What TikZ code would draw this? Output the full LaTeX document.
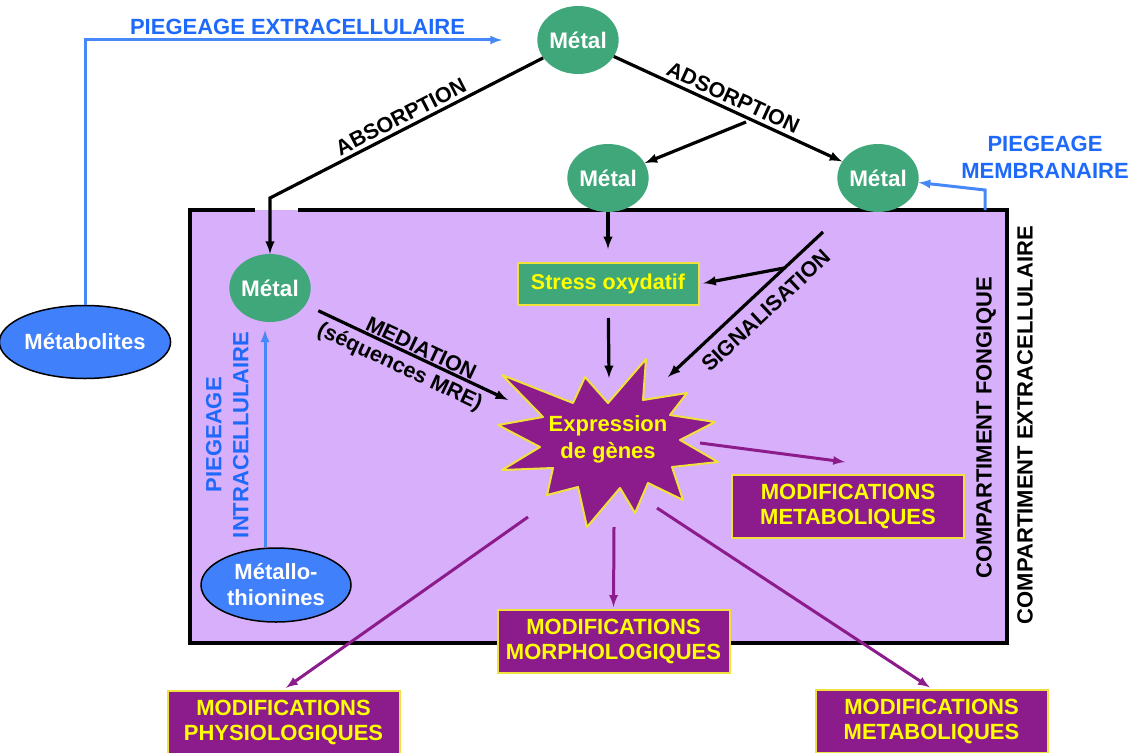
\documentclass[tikz,border=0pt]{standalone}
\usepackage{fontspec}
\setmainfont{Liberation Sans}
\usetikzlibrary{shapes.geometric}
\definecolor{vertmetal}{RGB}{63,167,122}
\definecolor{lavande}{RGB}{215,175,250}
\definecolor{violetgene}{RGB}{140,28,140}
\definecolor{jaune}{RGB}{255,255,0}
\definecolor{bordjaune}{RGB}{240,225,60}
\definecolor{bleutexte}{RGB}{30,105,250}
\definecolor{bleutrait}{RGB}{70,135,250}
\definecolor{bleuovale}{RGB}{64,128,250}
\tikzset{
  metal/.style={ellipse,fill=vertmetal,text=white,font=\bfseries\fontsize{22.5}{26}\selectfont,minimum width=74pt,minimum height=68pt,inner sep=0pt},
  ovale/.style={ellipse,draw=black,line width=1.5pt,fill=bleuovale,text=white,font=\bfseries\fontsize{22}{26}\selectfont,align=center,inner sep=0pt},
  stressbox/.style={draw=bordjaune,line width=2pt,fill=vertmetal,text=jaune,font=\bfseries\fontsize{21.5}{24}\selectfont,minimum width=181pt,minimum height=42pt,inner sep=0pt},
  modif/.style={draw=bordjaune,line width=2pt,fill=violetgene,text=jaune,font=\bfseries\fontsize{22}{25}\selectfont,align=center,minimum width=232pt,minimum height=63pt,inner sep=0pt},
  genes/.style={text=jaune,font=\bfseries\fontsize{22}{27}\selectfont,align=center},
  noirlabel/.style={text=black,font=\bfseries\fontsize{21.5}{24}\selectfont,align=center},
  bleulabel/.style={text=bleutexte,font=\bfseries\fontsize{22}{27}\selectfont,align=center},
  noir/.style={->,>=latex,line width=3.2pt,draw=black},
  bleu/.style={->,>=latex,line width=3pt,draw=bleutrait},
  violetfl/.style={->,>=latex,line width=3pt,draw=violetgene}
}
\begin{document}
\begin{tikzpicture}[x=1pt,y=-1pt]
\useasboundingbox (0,0) rectangle (1131,752);
\fill[lavande] (190,210) rectangle (1007,643);
\draw[line width=3.5pt] (298,210) -- (1007,210) -- (1007,643) -- (190,643) -- (190,210) -- (255,210);

\node[metal] (metaltop) at (578,40) {Métal};
\node[metal] (metalmid) at (608,178) {Métal};
\node[metal] (metalright) at (878,178) {Métal};
\node[metal] (metalin) at (270,288) {Métal};
\node[ovale,minimum width=149pt,minimum height=73pt] (metabolites) at (85,342) {Métabolites};
\node[ovale,minimum width=150pt,minimum height=74pt] (metallo) at (276,585) {Métallo-\\thionines};
\node[stressbox] (stress) at (608,284) {Stress oxydatif};
\draw[fill=violetgene,draw=bordjaune,line width=2pt,line join=round,shift={(608,440)}] (-106,-65) -- (-35,-37) -- (-23,-63) -- (0,-37) -- (38,-81) -- (35,-40) -- (79,-47) -- (62,-25) -- (107,-18) -- (72,0) -- (110,22) -- (64,27) -- (75,60) -- (40,43) -- (27,73) -- (12,48) -- (-21,87) -- (-30,47) -- (-61,55) -- (-55,28) -- (-106,30) -- (-68,7) -- (-110,-15) -- (-65,-23) -- cycle;
\node[genes] (expr) at (608,439) {Expression\\de gènes};
\node[modif] (metabin) at (848,506) {MODIFICATIONS\\METABOLIQUES};
\node[modif] (morpho) at (613.5,641.5) {MODIFICATIONS\\MORPHOLOGIQUES};
\node[modif] (physio) at (283.5,722) {MODIFICATIONS\\PHYSIOLOGIQUES};
\node[modif] (metabout) at (931.5,721) {MODIFICATIONS\\METABOLIQUES};
\node[noirlabel,font=\bfseries\fontsize{22}{24}\selectfont,rotate=90] (fongique) at (986,428) {COMPARTIMENT FONGIQUE};
\node[noirlabel,font=\bfseries\fontsize{22}{24}\selectfont,rotate=90] (extracell) at (1025,425) {COMPARTIMENT EXTRACELLULAIRE};
\node[bleulabel] (membrlabel) at (1045,157) {PIEGEAGE\\MEMBRANAIRE};

\coordinate (absbend) at (270,198); \coordinate (adsbranch) at (746,122); \coordinate (sigstart) at (823,232); \coordinate (sigend) at (668,377); \coordinate (sigbranch) at (784,268); \coordinate (medend) at (508,400); \coordinate (exprtop) at (609,378); \coordinate (membase) at (985,210); \coordinate (membend) at (985,190);
\coordinate (departA) at (700,443); \coordinate (finA) at (845,462); \coordinate (departB) at (528,517); \coordinate (departC) at (614,527); \coordinate (departD) at (657,508);

\draw[bleu,shorten >=35pt] (metabolites) |- (metaltop) node[pos=0.735,above,bleulabel]{PIEGEAGE EXTRACELLULAIRE}; \draw[bleu] (membase) -- (membend) -- (metalright); \draw[bleu,shorten >=8pt] ([xshift=-11pt]metallo.north) -- ([xshift=-5pt]metalin.south) node[midway,rotate=90,anchor=south,bleulabel,inner sep=15pt]{PIEGEAGE\\INTRACELLULAIRE};
\draw[noir,<-] (metalin) -- (absbend) -- (metaltop) node[midway,above,sloped,noirlabel]{ABSORPTION}; \draw[noir] (metaltop) -- (metalright) node[midway,above,sloped,noirlabel]{ADSORPTION}; \draw[noir] (adsbranch) -- (metalmid); \draw[noir,shorten >=13pt] (metalmid) -- (stress); \draw[noir,shorten <=12pt] (stress) -- (exprtop);
\draw[noir,<-] (sigend) -- (sigstart) node[pos=0.55,below,sloped,noirlabel,inner sep=9pt]{SIGNALISATION}; \draw[noir,shorten >=4pt] (sigbranch) -- (stress.east); \draw[noir,shorten <=14pt] (metalin) -- (medend) node[pos=0.55,above,sloped,noirlabel,inner sep=1pt]{MEDIATION} node[pos=0.5,below,sloped,noirlabel,inner sep=5pt]{(séquences MRE)};
\draw[violetfl] (departA) -- (finA); \draw[violetfl,shorten >=3pt] (departB) -- (physio.north); \draw[violetfl,shorten >=2pt] (departC) -- (morpho.north); \draw[violetfl,shorten >=2pt] (departD) -- (metabout.north);
\end{tikzpicture}
\end{document}
